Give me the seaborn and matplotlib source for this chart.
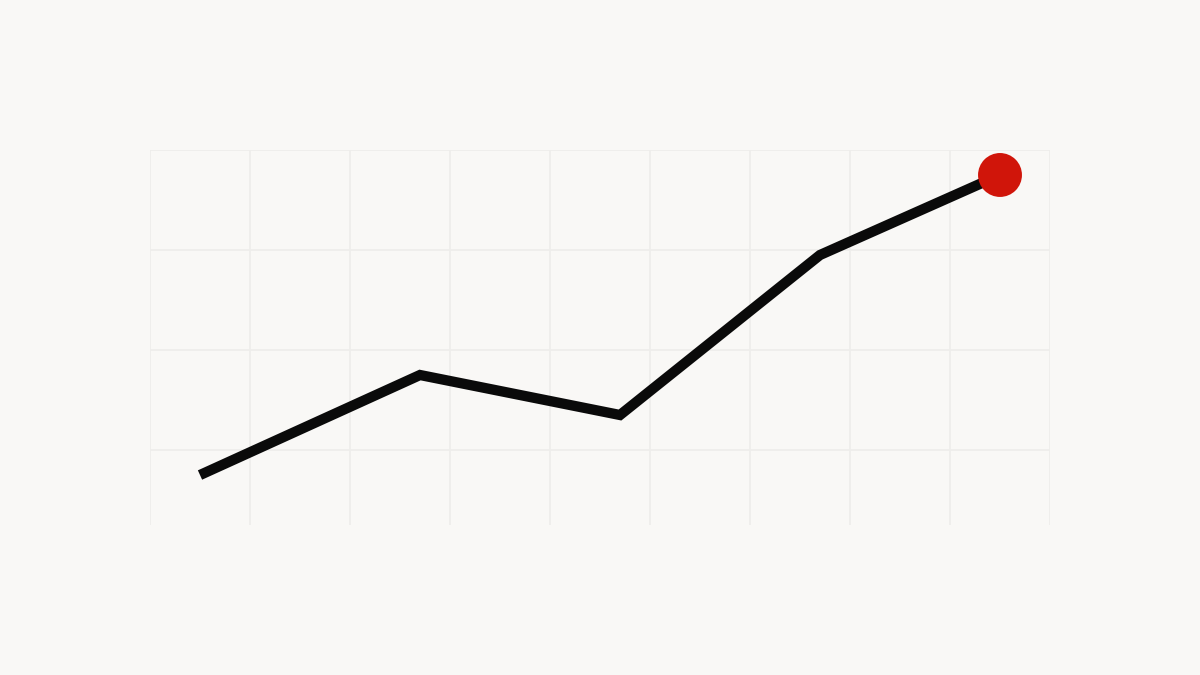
import seaborn as sns
import matplotlib.pyplot as plt
import pandas as pd

# values (grid units)
steps = [0.5, 2.7, 4.7, 6.7, 8.5]
values = [0.5, 1.5, 1.1, 2.7, 3.5]
x_grid = list(range(0, 10))
y_grid = [0.75, 1.75, 2.75, 3.75]

df = pd.DataFrame({"step": steps, "value": values})

sns.set_style("white")
bg = "#f9f8f6"
fig = plt.figure(figsize=(12, 6.75), dpi=100, facecolor=bg)
ax = fig.add_axes([0.125, 0.2222, 0.75, 0.5556])
ax.set_facecolor(bg)

sns.lineplot(data=df, x="step", y="value", ax=ax, color="#0a0a0a",
             linewidth=7.4, solid_capstyle="butt", solid_joinstyle="miter", zorder=3)
sns.scatterplot(data=df.tail(1), x="step", y="value", ax=ax, color="#d0150a",
                s=1000, edgecolor="none", zorder=4, clip_on=False)

ax.set_xlim(0, 9)
ax.set_ylim(0, 3.75)
ax.set_xticks(x_grid)
ax.set_yticks(y_grid)
ax.grid(True, color="#eeedeb", linewidth=1.2)
ax.tick_params(length=0, labelbottom=False, labelleft=False)
ax.set_xlabel("")
ax.set_ylabel("")
for s in ax.spines.values():
    s.set_visible(False)

fig.savefig("out.png", dpi=100, facecolor=bg)
